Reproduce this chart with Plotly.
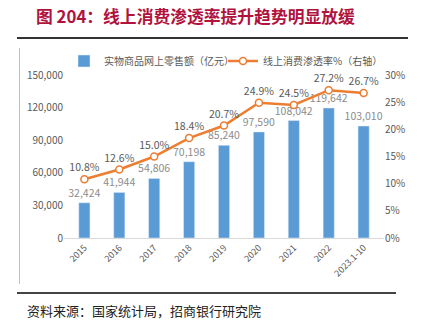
import plotly.graph_objects as go

categories = ["2015", "2016", "2017", "2018", "2019", "2020", "2021", "2022", "2023.1-10"]
online_sales = [32424, 41944, 54806, 70198, 85240, 97590, 108042, 119642, 103010]
penetration = [10.8, 12.6, 15.0, 18.4, 20.7, 24.9, 24.5, 27.2, 26.7]
left_ticks = [0, 30000, 60000, 90000, 120000, 150000]
right_ticks = [0, 5, 10, 15, 20, 25, 30]

W, H = 424, 327
L, R, T, B = 64, 40, 75, 89
PW, PH = W - L - R, H - T - B


def px(x):
    return (x - L) / PW


def py(y):
    return (H - B - y) / PH


FONT = "Noto Sans CJK SC"

fig = go.Figure()
fig.add_trace(go.Bar(
    x=categories, y=online_sales, name="实物商品网上零售额（亿元）",
    marker_color="#5b9bd5", width=0.32, legend="legend",
    text=[f"{v:,}" for v in online_sales], textposition="outside",
    constraintext="none",
    textfont=dict(color="#8c8c8c", size=10.5, family=FONT),
    cliponaxis=False,
))
fig.add_trace(go.Scatter(
    x=categories, y=penetration, name="线上消费渗透率%（右轴）", yaxis="y2",
    legend="legend2",
    mode="lines+markers+text",
    line=dict(color="#ed7d31", width=2.5),
    marker=dict(symbol="circle", size=7, color="white", line=dict(color="#ed7d31", width=1.5)),
    text=[f"{v:.1f}%" for v in penetration], textposition="top center",
    textfont=dict(color="#595959", size=10.5, family=FONT),
    cliponaxis=False,
))

legend_font = dict(size=10, color="#595959", family=FONT)
fig.update_layout(
    width=W, height=H,
    margin=dict(l=L, r=R, t=T, b=B),
    paper_bgcolor="white", plot_bgcolor="white",
    font=dict(family=FONT, color="#595959", size=10),
    showlegend=True,
    legend=dict(orientation="h", x=px(64), y=py(61), xanchor="left", yanchor="middle",
                font=legend_font, bgcolor="rgba(0,0,0,0)", itemwidth=30),
    legend2=dict(orientation="h", x=px(223), y=py(61), xanchor="left", yanchor="middle",
                 font=legend_font, bgcolor="rgba(0,0,0,0)", itemwidth=30),
    xaxis=dict(type="category", tickangle=-45, showgrid=False, showline=True,
               linecolor="#d9d9d9", linewidth=1, ticks="",
               tickfont=dict(size=9, color="#595959", family=FONT)),
    yaxis=dict(range=[0, 150000], tickvals=left_ticks,
               ticktext=[f"{v:,}" for v in left_ticks], showgrid=False,
               zeroline=False, showline=False, ticks="",
               tickfont=dict(size=10, color="#595959", family=FONT)),
    yaxis2=dict(range=[0, 30], tickvals=right_ticks,
                ticktext=[f"{v}%" for v in right_ticks], overlaying="y", side="right",
                showgrid=False, zeroline=False, showline=False, ticks="",
                tickfont=dict(size=10, color="#595959", family=FONT)),
)

shapes = [
    dict(type="line", xref="paper", yref="paper", x0=px(17), x1=px(408), y0=py(38), y1=py(38),
         line=dict(color="#333333", width=2)),
    dict(type="line", xref="paper", yref="paper", x0=px(17), x1=px(396), y0=py(293), y1=py(293),
         line=dict(color="#444444", width=2)),
    dict(type="line", xref="paper", yref="paper", x0=px(19.5), x1=px(19.5), y0=py(48), y1=py(284),
         line=dict(color="#bfbfbf", width=1)),
]
fig.update_layout(shapes=shapes)

fig.add_annotation(text="<b>图 204：线上消费渗透率提升趋势明显放缓</b>", xref="paper", yref="paper",
                   x=px(34), y=py(16), xanchor="left", yanchor="middle", showarrow=False,
                   align="left", font=dict(size=16.8, color="#b0123e", family=FONT))
fig.add_annotation(text="资料来源：国家统计局，招商银行研究院", xref="paper", yref="paper",
                   x=px(25), y=py(310), xanchor="left", yanchor="middle", showarrow=False,
                   align="left", font=dict(size=13, color="#222222", family=FONT))

fig.write_html("out.html")
